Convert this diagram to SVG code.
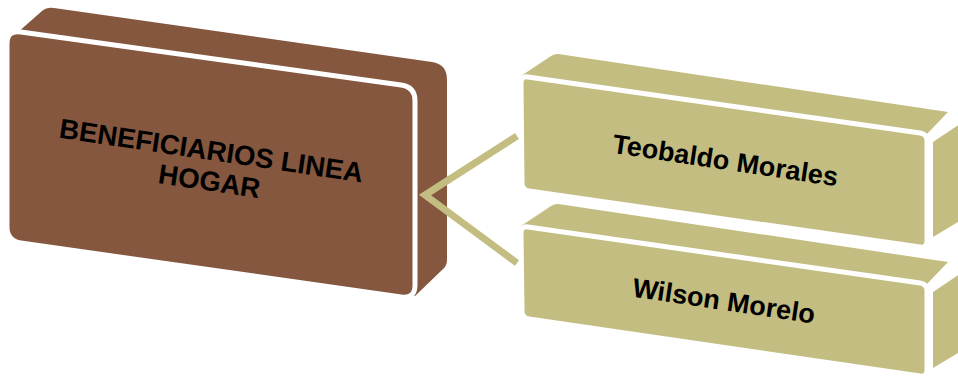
<svg xmlns="http://www.w3.org/2000/svg" width="958" height="376" viewBox="0 0 958 376">
<style>
.brown{fill:#85573F}
.olive{fill:#C3BD82}
.front{stroke:#FFFFFF;stroke-width:5;stroke-linejoin:round}
.lbl{font-family:"Liberation Sans",Arial,sans-serif;font-weight:bold;font-size:27px;fill:#000000;text-anchor:middle}
.big{font-size:27.6px}
.conn{fill:none;stroke:#C3BD82;stroke-width:7;stroke-linejoin:miter;stroke-miterlimit:10}
</style>
<rect x="0" y="0" width="958" height="376" fill="#FFFFFF"/>
<g id="node-beneficiarios">
<path class="brown" d="M 9,40 L 42,11 Q 47,7 54,8 L 432,62 Q 447,64 447,80 L 447,260 Q 447,266 442,270 L 415,296 L 9,240 Z"/>
<path class="brown front" d="M 20.9,31.9 L 401.1,85.1 Q 415,87 415,101 L 415,285 Q 415,299 401.1,297 L 20.9,243 Q 7,241 7,227 L 7,44 Q 7,30 20.9,31.9 Z"/>
<g transform="translate(210,160) rotate(8.4)">
<text class="lbl big" x="0" y="0">BENEFICIARIOS LINEA</text>
<text class="lbl big" x="2.5" y="30.5">HOGAR</text>
</g>
</g>
<g id="connectors">
<polyline class="conn" points="517,136 425,195 517,263"/>
</g>
<g id="node-teobaldo">
<path class="olive" d="M 521,76 L 551,56 Q 555,53.5 560,54.3 L 948,112 L 927,134 Z"/>
<path class="olive" d="M 933,142 L 975,114 L 975,212 L 933,237 Z"/>
<path class="olive front" d="M 527.9,77 L 920.1,133 Q 927,134 927,141 L 927,241 Q 927,248 920.1,247 L 528.9,191 Q 522,190 522,183 L 521,83 Q 521,76 527.9,77 Z"/>
<text class="lbl" transform="translate(724,169.5) rotate(8.5)" x="0" y="0">Teobaldo Morales</text>
</g>
<g id="node-wilson">
<path class="olive" d="M 521,226 L 551,206 Q 555,203.5 560,204.3 L 948,262 L 927,284 Z"/>
<path class="olive" d="M 933,292 L 975,264 L 975,343 L 933,368 Z"/>
<path class="olive front" d="M 527.9,227 L 920.1,283 Q 927,284 927,291 L 927,370 Q 927,377 920.1,376 L 528.9,319 Q 522,318 522,311 L 521,233 Q 521,226 527.9,227 Z"/>
<text class="lbl" transform="translate(722.5,310) rotate(8.5)" x="0" y="0">Wilson Morelo</text>
</g>
</svg>
